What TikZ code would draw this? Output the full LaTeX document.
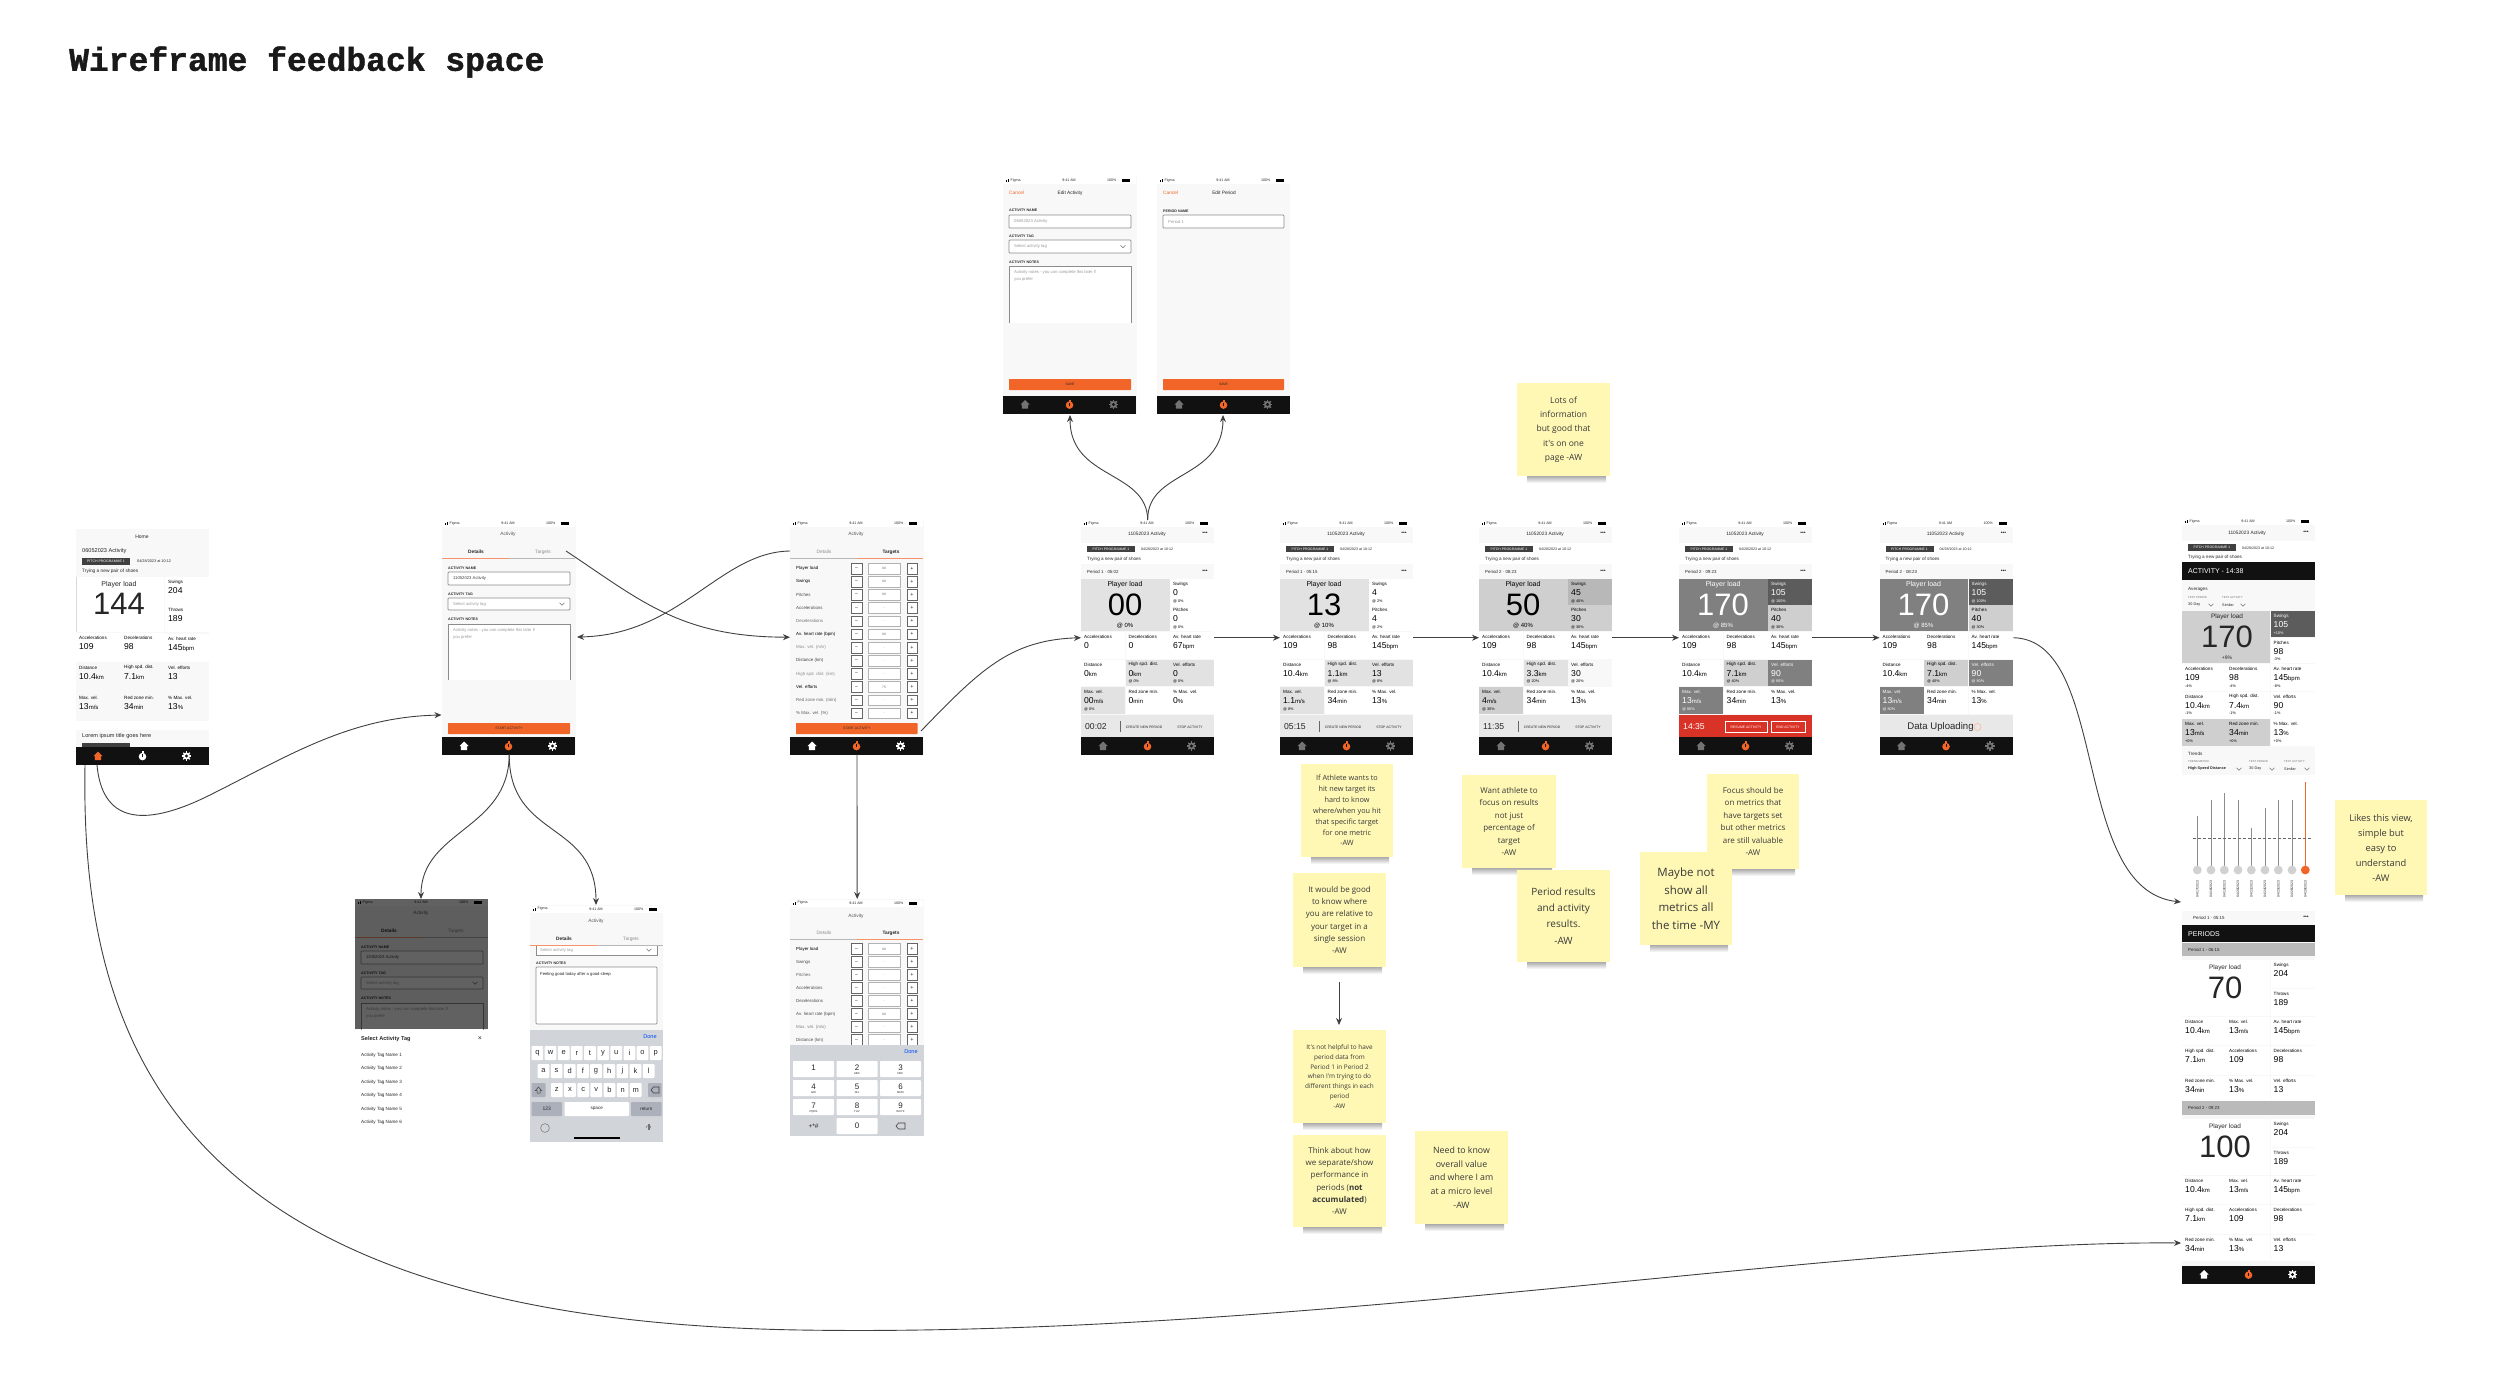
\documentclass[tikz,border=0pt]{standalone}
\usepackage{fontspec}
\usetikzlibrary{arrows.meta}
\setmainfont{Liberation Sans}
\newfontfamily\notefont{Open Sans}
\newfontfamily\titlefont[BoldFeatures={FakeBold=1.2}]{Liberation Mono}

\definecolor{orangeui}{HTML}{F26528}
\definecolor{tabblack}{HTML}{111111}
\definecolor{screenbg}{HTML}{F8F8F8}
\definecolor{g1}{HTML}{E2E2E2}
\definecolor{g2}{HTML}{CFCFCF}
\definecolor{g3}{HTML}{808080}
\definecolor{g4}{HTML}{5C5C5C}
\definecolor{redbar}{HTML}{D93226}
\definecolor{stickyyellow}{HTML}{FFF8B5}
\definecolor{keygrey}{HTML}{D1D4D9}
\definecolor{keydark}{HTML}{ABB0BA}

\tikzset{
  txt/.style={inner sep=0pt, anchor=west, text=black!85},
  screen/.style={anchor=north west, inner sep=0pt, fill=screenbg},
  link/.style={->, draw=black!75, line width=0.9pt},
  fieldbox/.style={draw=black!45, line width=0.7pt, fill=white, rounded corners=0.8pt},
  note/.style={fill=stickyyellow, inner sep=0pt, align=center, text=black!78}
}

\newcounter{lblno}
\newcommand{\fsz}[1]{\fontsize{#1}{#1}\selectfont}
\newcommand{\unt}[1]{{\fsz{6}#1}}
\newcommand{\lbl}[5][]{\stepcounter{lblno}\node[txt,font=\fsz{#4},#1] (lbl\arabic{lblno}) at ({#2},{#3}) {#5};}

% icons of the tab bar
\newcommand{\homeicon}[3]{\fill[#3] (#1-4.5,#2) -- (#1,#2-4.5) -- (#1+4.5,#2) -- (#1+3.2,#2) -- (#1+3.2,#2+4) -- (#1-3.2,#2+4) -- (#1-3.2,#2) -- cycle;}
\newcommand{\timericon}[3]{\fill[#3] (#1,#2+0.6) circle (3.8); \fill[#3] (#1-1,#2-4.6) rectangle (#1+1,#2-2.6); \fill[tabblack] (#1-0.4,#2-1.6) rectangle (#1+0.4,#2+1);}
\newcommand{\gearicon}[3]{\fill[#3] (#1,#2) circle (3.5);
  \foreach \a in {0,45,90,135} {\draw[#3, line width=1.4pt] ({#1+4.6*cos(\a)},{#2+4.6*sin(\a)}) -- ({#1-4.6*cos(\a)},{#2-4.6*sin(\a)});}
  \fill[tabblack] (#1,#2) circle (1.7);}
\newcommand{\tabbar}[5]{\fill[tabblack] (#1,#2) rectangle (#1+133,#2+18);
  \homeicon{#1+22}{#2+9}{#3} \timericon{#1+66.5}{#2+9}{#4} \gearicon{#1+110.5}{#2+9}{#5}}

% status bar, y is its middle
\newcommand{\statusbar}[2]{\fill[white] (#1,#2-3.5) rectangle (#1+133,#2+3.5);
  \fill[black] (#1+3,#2-0.5) rectangle (#1+4,#2+1.5); \fill[black] (#1+5,#2-1.5) rectangle (#1+6,#2+1.5);
  \lbl{#1+7.5}{#2}{3.6}{Figma}
  \lbl[anchor=center]{#1+66}{#2}{3.6}{9:41 AM}
  \lbl{#1+104}{#2}{3.6}{100\%}
  \fill[black] (#1+119,#2-1.5) rectangle (#1+127,#2+1.5);}

\newcommand{\chip}[4]{\fill[black!75] (#1,#2) rectangle (#3,#4);}

% one metric cell
\newcommand{\mcell}[9]{\fill[#5] (#1,#2) rectangle (#1+#3,#2+#4);
  \lbl[#6]{#1+3}{#2+5}{4.6}{#7}
  \lbl[#6]{#1+3}{#2+14}{8.6}{#8}
  \lbl[#6]{#1+3}{#2+22}{3.8}{#9}}
\newcommand{\rcell}[7]{\mcell{#1*44.5}{632+#2*27.5}{44}{26.5}{#3}{#4}{#5}{#6}{#7}}
\newcommand{\bigcell}[4]{\fill[#1] (0,579) rectangle (88.5,631);
  \lbl[anchor=center,#2]{44}{585}{7}{Player load}
  \lbl[anchor=center,#2]{44}{605}{31}{#3}
  \lbl[anchor=center,#2]{44}{626}{6}{#4}}

% top part of a running activity
\newcommand{\livehead}[1]{\statusbar{0}{523.5}
  \fill[white] (0,543) rectangle (133,564);
  \lbl[anchor=center]{66}{534}{4.8}{11052023 Activity}
  \lbl[anchor=center]{124}{533.5}{5}{\textbf{•••}}
  \chip{6}{546}{54}{552}
  \lbl[anchor=center,white]{30}{549}{3.4}{PITCH PROGRAMME 1}
  \lbl{60}{549}{3.6}{04/28/2023 at 10:12}
  \lbl{6}{559}{4.6}{Trying a new pair of shoes}
  \lbl{6}{572}{4.4}{#1}
  \lbl[anchor=center]{124}{571.5}{5}{\textbf{•••}}}
\newcommand{\livebar}[1]{\fill[g1!80] (0,715) rectangle (133,737);
  \lbl{4}{727}{8.6}{#1}
  \draw[black!60, line width=0.6pt] (39,721) -- (39,732);
  \lbl[anchor=center]{63}{727}{3.4}{CREATE NEW PERIOD}
  \lbl[anchor=center]{109}{727}{3.4}{STOP ACTIVITY}
  \tabbar{0}{737}{black!55}{orangeui}{black!55}}

% form with activity fields
\newcommand{\detailstabs}[2]{%
  \ifnum#2=1
    \lbl[anchor=center]{34}{#1-7}{4.8}{\textbf{Details}}
    \lbl[anchor=center,black!45]{101}{#1-7}{4.8}{Targets}
    \fill[black!28] (67,#1-1) rectangle (133,#1);
    \fill[orangeui!70] (0,#1-1) rectangle (67,#1);
  \else
    \lbl[anchor=center,black!45]{34}{#1-7}{4.8}{Details}
    \lbl[anchor=center]{101}{#1-7}{4.8}{\textbf{Targets}}
    \fill[black!28] (0,#1-1) rectangle (67,#1);
    \fill[orangeui!70] (67,#1-1) rectangle (133,#1);
  \fi}
\newcommand{\chevron}[2]{\draw[black!55, line width=0.5pt] (#1-2.5,#2-1.2) -- (#1,#2+1.2) -- (#1+2.5,#2-1.2);}
\newcommand{\activityform}[2]{\lbl{6}{568}{3.6}{\textbf{ACTIVITY NAME}}
  \draw[fieldbox] (6,572) rectangle (128,585);
  \lbl[#1]{11}{578.5}{4.2}{#2}
  \lbl{6}{594}{3.6}{\textbf{ACTIVITY TAG}}
  \draw[fieldbox] (6,598) rectangle (128,610);
  \lbl[black!40]{11}{604}{4.2}{Select activity tag}
  \chevron{120}{604}
  \lbl{6}{619}{3.6}{\textbf{ACTIVITY NOTES}}
  \fill[white] (6,624) rectangle (128,680);
  \draw[black!45, line width=0.7pt] (6,680) -- (6,624) -- (128,624) -- (128,680);
  \lbl[black!40]{11}{630}{4.2}{Activity notes - you can complete this later if}
  \lbl[black!40]{11}{637}{4.2}{you prefer}}
\newcommand{\orangebtn}[5]{\fill[orangeui, rounded corners=0.6pt] (#1,#2) rectangle (#3,#4);
  \lbl[anchor=center]{(#1+#3)/2}{(#2+#4)/2}{3.4}{#5}}

% one row of the targets form
\newcommand{\targetrow}[4]{\lbl[#4]{6}{#1}{4.4}{#2}
  \draw[black!60, line width=0.5pt, fill=white] (61,#1-5.3) rectangle (72,#1+5.3);
  \lbl[anchor=center]{66.5}{#1}{5.5}{−}
  \draw[black!30, line width=0.5pt, fill=white] (78,#1-5.3) rectangle (110.5,#1+5.3);
  \lbl[anchor=center,black!60]{94}{#1}{3.2}{#3}
  \draw[black!60, line width=0.5pt, fill=white] (117,#1-5.3) rectangle (127.5,#1+5.3);
  \lbl[anchor=center]{122}{#1}{5.5}{+}}

\newcommand{\keycap}[7][white]{\fill[#1, rounded corners=0.9pt] (#2,#3) rectangle (#4,#5);
  \lbl[anchor=center]{(#2+#4)/2}{(#3+#5)/2}{#6}{#7}}
\newcommand{\padkey}[4]{\fill[white, rounded corners=0.9pt] (#1,#2) rectangle (#1+41,#2+16);
  \lbl[anchor=center]{#1+20.5}{#2+6.5}{8}{#3}
  \lbl[anchor=center]{#1+20.5}{#2+13}{2.8}{#4}}

% a block of the periods list
\newcommand{\periodblock}[2]{\fill[white] (0,#1) rectangle (87.5,#1+56);
  \lbl[anchor=center]{43}{#1+8}{6.4}{Player load}
  \lbl[anchor=center]{43}{#1+28}{31}{#2}
  \mcell{88.5}{#1}{44.5}{27.5}{white}{black}{Swings}{204}{}
  \mcell{88.5}{#1+28.5}{44.5}{27.5}{white}{black}{Throws}{189}{}
  \mcell{0}{#1+57}{43.5}{28}{white}{black}{Distance}{10.4\unt{km}}{}
  \mcell{44}{#1+57}{44}{28}{white}{black}{Max. vel.}{13\unt{m/s}}{}
  \mcell{88.5}{#1+57}{44.5}{28}{white}{black}{Av. heart rate}{145\unt{bpm}}{}
  \mcell{0}{#1+86}{43.5}{29}{white}{black}{High spd. dist.}{7.1\unt{km}}{}
  \mcell{44}{#1+86}{44}{29}{white}{black}{Accelerations}{109}{}
  \mcell{88.5}{#1+86}{44.5}{29}{white}{black}{Decelerations}{98}{}
  \mcell{0}{#1+116}{43.5}{26}{white}{black}{Red zone min.}{34\unt{min}}{}
  \mcell{44}{#1+116}{44}{26}{white}{black}{\% Max. vel.}{13\unt{\%}}{}
  \mcell{88.5}{#1+116}{44.5}{26}{white}{black}{Vel. efforts}{13}{}}

% yellow note with its shadow
\newcommand{\sticky}[8]{\shade[top color=black!55, bottom color=white, opacity=0.6] (#2+10,#5) rectangle (#4-4,#5+7);
  \node[note, font=\notefont\fontsize{#6}{#7}\selectfont, minimum width={(#4-#2)*1pt}, minimum height={(#5-#3)*1pt}] (#1) at ({(#2+#4)/2},{(#3+#5)/2}) {#8};}

\begin{document}
\begin{tikzpicture}[>={Stealth[length=7pt,width=6pt]}, x=1pt, y=-1pt]
    \useasboundingbox (0,0) rectangle (2500,1380);
    \fill[white] (0,0) rectangle (2500,1380);

    % 1. Title
    \node[txt, font=\titlefont\bfseries\fontsize{33}{33}\selectfont, text=black!90] (title) at (69,62) {Wireframe feedback space};

    % 2. Home screen
    \node[screen, minimum width=133pt, minimum height=235pt] (home) at (76,529) {};
    \begin{scope}[shift={(76,0)}]
        \lbl[anchor=center]{66}{537}{5}{Home}
        \lbl{6}{551}{5.6}{06052023 Activity}
        \chip{6}{558}{54}{565}
        \lbl[anchor=center,white]{30}{561.5}{3.5}{PITCH PROGRAMME 1}
        \lbl{61}{561}{3.8}{04/28/2023 at 10:12}
        \lbl{6}{571}{4.8}{Trying a new pair of shoes}
        \fill[white] (0,577) rectangle (88,632);
        \draw[black!15, line width=0.5pt] (0,577) -- (0,632);
        \lbl[anchor=center]{43}{584.5}{7}{Player load}
        \lbl[anchor=center]{43}{604}{31}{144}
        \mcell{89}{577}{44}{28}{white}{black}{Swings}{204}{}
        \mcell{89}{605}{44}{27}{white}{black}{Throws}{189}{}
        \mcell{0}{633}{44.5}{29}{white}{black}{Accelerations}{109}{}
        \mcell{45}{633}{43.5}{29}{white}{black}{Decelerations}{98}{}
        \mcell{89}{634}{44}{28}{white}{black}{Av. heart rate}{145\unt{bpm}}{}
        \mcell{0}{662.5}{44.5}{29}{screenbg}{black}{Distance}{10.4\unt{km}}{}
        \mcell{45}{662.5}{43.5}{29}{screenbg}{black}{High spd. dist.}{7.1\unt{km}}{}
        \mcell{89}{662.5}{44}{29}{screenbg}{black}{Vel. efforts}{13}{}
        \mcell{0}{692.5}{44.5}{28.5}{screenbg}{black}{Max. vel.}{13\unt{m/s}}{}
        \mcell{45}{692.5}{43.5}{28.5}{screenbg}{black}{Red zone min.}{34\unt{min}}{}
        \mcell{89}{692.5}{44}{28.5}{screenbg}{black}{\% Max. vel.}{13\unt{\%}}{}
        \fill[white] (0,721) rectangle (133,730);
        \lbl{6}{736}{5.6}{Lorem ipsum title goes here}
        \chip{6}{743}{54}{747}
        \tabbar{0}{747}{orangeui}{white}{white}
    \end{scope}

    % 3. Activity form, Details tab
    \node[screen, minimum width=134pt, minimum height=234pt] (details) at (442,520) {};
    \begin{scope}[shift={(442,0)}]
        \statusbar{0}{523.5}
        \lbl[anchor=center,black!65]{66}{534}{4.8}{Activity}
        \detailstabs{559}{1}
        \activityform{black!75}{11052023 Activity}
        \orangebtn{6}{723}{128}{734}{START ACTIVITY}
        \tabbar{0}{737}{white}{orangeui}{white}
    \end{scope}

    % 4. Activity form, Targets tab
    \node[screen, minimum width=133.5pt, minimum height=234pt] (targets) at (790,520) {};
    \begin{scope}[shift={(790,0)}]
        \statusbar{0}{523.5}
        \lbl[anchor=center,black!65]{66}{534}{4.8}{Activity}
        \detailstabs{559}{2}
        \foreach \lab/\val/\col [count=\i from 0] in {Player load/90/black, Swings/90/black, Pitches/90/black!70, Accelerations/-/black!70, Decelerations/-/black!55, Av. heart rate (bpm)/90/black, Max. vel. (m\slash s)/-/black!45, Distance (km)/-/black!75, High spd. dist. (km)/-/black!45, Vel. efforts/75/black, Red zone min. (min)/-/black!60, \% Max. vel. (\%)/-/black!65} {
            \pgfmathsetmacro\rowy{568.5+13.17*\i}
            \targetrow{\rowy}{\lab}{\val}{\col}
        }
        \orangebtn{6}{723}{127.5}{734}{START ACTIVITY}
        \tabbar{0}{737}{white}{orangeui}{white}
    \end{scope}

    % 5. Edit activity and edit period
    \node[screen, minimum width=134pt, minimum height=237pt] (editact) at (1003,177) {};
    \begin{scope}[shift={(1003,0)}]
        \statusbar{0}{180.5}
        \lbl[orangeui]{6}{193}{4.8}{Cancel}
        \lbl[anchor=center]{67}{193}{4.8}{Edit Activity}
        \lbl{6}{210}{3.6}{\textbf{ACTIVITY NAME}}
        \draw[fieldbox] (6,215) rectangle (128,228);
        \lbl[black!40]{11}{221.5}{4.2}{06052023 Activity}
        \lbl{6}{236}{3.6}{\textbf{ACTIVITY TAG}}
        \draw[fieldbox] (6,240) rectangle (128,253);
        \lbl[black!40]{11}{246.5}{4.2}{Select activity tag}
        \chevron{120}{246.5}
        \lbl{6}{262}{3.6}{\textbf{ACTIVITY NOTES}}
        \fill[white] (6,266) rectangle (128,323);
        \draw[black!45, line width=0.7pt] (6,323) -- (6,266) -- (128,266) -- (128,323);
        \lbl[black!40]{11}{272}{4.2}{Activity notes - you can complete this later if}
        \lbl[black!40]{11}{279}{4.2}{you prefer}
        \orangebtn{6}{379}{128}{390}{SAVE}
        \tabbar{0}{395.5}{black!55}{orangeui}{black!55}
    \end{scope}
    \node[screen, minimum width=133pt, minimum height=237pt] (editper) at (1157,177) {};
    \begin{scope}[shift={(1157,0)}]
        \statusbar{0}{180.5}
        \lbl[orangeui]{6}{193}{4.8}{Cancel}
        \lbl[anchor=center]{67}{193}{4.8}{Edit Period}
        \lbl{6}{211}{3.6}{\textbf{PERIOD NAME}}
        \draw[fieldbox] (6,215) rectangle (127,228);
        \lbl[black!40]{11}{221.5}{4.2}{Period 1}
        \orangebtn{6}{379}{127}{390}{SAVE}
        \tabbar{0}{395.5}{black!55}{orangeui}{black!55}
    \end{scope}

    % 6. Running activity, one screen after the other
    \node[screen, minimum width=133pt, minimum height=235pt] (live00) at (1081,520) {};
    \begin{scope}[shift={(1081,0)}]
        \livehead{Period 1 · 05:02}
        \bigcell{g1}{black}{00}{@ 0\%}
        \mcell{89}{579}{44}{25.5}{white}{black}{Swings}{0}{@ 0\%}
        \mcell{89}{605}{44}{26}{white}{black}{Pitches}{0}{@ 0\%}
        \rcell{0}{0}{white}{black}{Accelerations}{0}{}
        \rcell{1}{0}{white}{black}{Decelerations}{0}{}
        \rcell{2}{0}{white}{black}{Av. heart rate}{67\unt{bpm}}{}
        \rcell{0}{1}{white}{black}{Distance}{0\unt{km}}{}
        \rcell{1}{1}{g1}{black}{High spd. dist.}{0\unt{km}}{@ 0\%}
        \rcell{2}{1}{g1}{black}{Vel. efforts}{0}{@ 0\%}
        \rcell{0}{2}{g1}{black}{Max. vel.}{00\unt{m/s}}{@ 0\%}
        \rcell{1}{2}{white}{black}{Red zone min.}{0\unt{min}}{}
        \rcell{2}{2}{white}{black}{\% Max. vel.}{0\unt{\%}}{}
        \livebar{00:02}
    \end{scope}

    \node[screen, minimum width=133pt, minimum height=235pt] (live13) at (1280,520) {};
    \begin{scope}[shift={(1280,0)}]
        \livehead{Period 1 · 05:15}
        \bigcell{g1}{black}{13}{@ 10\%}
        \mcell{89}{579}{44}{25.5}{white}{black}{Swings}{4}{@ 2\%}
        \mcell{89}{605}{44}{26}{white}{black}{Pitches}{4}{@ 2\%}
        \rcell{0}{0}{white}{black}{Accelerations}{109}{}
        \rcell{1}{0}{white}{black}{Decelerations}{98}{}
        \rcell{2}{0}{white}{black}{Av. heart rate}{145\unt{bpm}}{}
        \rcell{0}{1}{white}{black}{Distance}{10.4\unt{km}}{}
        \rcell{1}{1}{g1}{black}{High spd. dist.}{1.1\unt{km}}{@ 8\%}
        \rcell{2}{1}{g1}{black}{Vel. efforts}{13}{@ 8\%}
        \rcell{0}{2}{g1}{black}{Max. vel.}{1.1\unt{m/s}}{@ 8\%}
        \rcell{1}{2}{white}{black}{Red zone min.}{34\unt{min}}{}
        \rcell{2}{2}{white}{black}{\% Max. vel.}{13\unt{\%}}{}
        \livebar{05:15}
    \end{scope}

    \node[screen, minimum width=133pt, minimum height=235pt] (live50) at (1479,520) {};
    \begin{scope}[shift={(1479,0)}]
        \livehead{Period 2 · 08:23}
        \bigcell{g2}{black}{50}{@ 40\%}
        \mcell{89}{579}{44}{25.5}{black!28}{black}{Swings}{45}{@ 40\%}
        \mcell{89}{605}{44}{26}{g2}{black}{Pitches}{30}{@ 30\%}
        \rcell{0}{0}{white}{black}{Accelerations}{109}{}
        \rcell{1}{0}{white}{black}{Decelerations}{98}{}
        \rcell{2}{0}{white}{black}{Av. heart rate}{145\unt{bpm}}{}
        \rcell{0}{1}{white}{black}{Distance}{10.4\unt{km}}{}
        \rcell{1}{1}{g1}{black}{High spd. dist.}{3.3\unt{km}}{@ 20\%}
        \rcell{2}{1}{screenbg}{black}{Vel. efforts}{30}{@ 20\%}
        \rcell{0}{2}{g2}{black}{Max. vel.}{4\unt{m/s}}{@ 30\%}
        \rcell{1}{2}{white}{black}{Red zone min.}{34\unt{min}}{}
        \rcell{2}{2}{white}{black}{\% Max. vel.}{13\unt{\%}}{}
        \livebar{11:35}
    \end{scope}

    \node[screen, minimum width=133pt, minimum height=235pt] (live170) at (1679,520) {};
    \begin{scope}[shift={(1679,0)}]
        \livehead{Period 2 · 09:23}
        \bigcell{g3}{white}{170}{@ 85\%}
        \mcell{89}{579}{44}{25.5}{g4}{white}{Swings}{105}{@ 100\%}
        \mcell{89}{605}{44}{26}{g2}{black}{Pitches}{40}{@ 30\%}
        \rcell{0}{0}{white}{black}{Accelerations}{109}{}
        \rcell{1}{0}{white}{black}{Decelerations}{98}{}
        \rcell{2}{0}{white}{black}{Av. heart rate}{145\unt{bpm}}{}
        \rcell{0}{1}{white}{black}{Distance}{10.4\unt{km}}{}
        \rcell{1}{1}{g2}{black}{High spd. dist.}{7.1\unt{km}}{@ 40\%}
        \rcell{2}{1}{g3}{white}{Vel. efforts}{90}{@ 80\%}
        \rcell{0}{2}{g3}{white}{Max. vel.}{13\unt{m/s}}{@ 80\%}
        \rcell{1}{2}{white}{black}{Red zone min.}{34\unt{min}}{}
        \rcell{2}{2}{white}{black}{\% Max. vel.}{13\unt{\%}}{}
        \fill[redbar] (0,715) rectangle (133,737);
        \lbl[white]{4}{727}{8.6}{14:35}
        \draw[white, line width=0.5pt] (46,721) rectangle (88,732);
        \draw[white, line width=0.5pt] (92,721) rectangle (126,732);
        \lbl[anchor=center,white]{67}{727}{3.4}{RESUME ACTIVITY}
        \lbl[anchor=center,white]{109}{727}{3.4}{END ACTIVITY}
        \tabbar{0}{737}{black!55}{orangeui}{black!55}
    \end{scope}

    \node[screen, minimum width=133.5pt, minimum height=235pt] (upload) at (1879.5,520) {};
    \begin{scope}[shift={(1879.5,0)}]
        \livehead{Period 2 · 08:23}
        \bigcell{g3}{white}{170}{@ 85\%}
        \mcell{89}{579}{44}{25.5}{g4}{white}{Swings}{105}{@ 100\%}
        \mcell{89}{605}{44}{26}{g2}{black}{Pitches}{40}{@ 30\%}
        \rcell{0}{0}{white}{black}{Accelerations}{109}{}
        \rcell{1}{0}{white}{black}{Decelerations}{98}{}
        \rcell{2}{0}{white}{black}{Av. heart rate}{145\unt{bpm}}{}
        \rcell{0}{1}{white}{black}{Distance}{10.4\unt{km}}{}
        \rcell{1}{1}{g2}{black}{High spd. dist.}{7.1\unt{km}}{@ 40\%}
        \rcell{2}{1}{g3}{white}{Vel. efforts}{90}{@ 80\%}
        \rcell{0}{2}{g3}{white}{Max. vel.}{13\unt{m/s}}{@ 80\%}
        \rcell{1}{2}{white}{black}{Red zone min.}{34\unt{min}}{}
        \rcell{2}{2}{white}{black}{\% Max. vel.}{13\unt{\%}}{}
        \fill[g1!80] (0,715) rectangle (133,737);
        \lbl[anchor=center]{61}{727}{9.6}{Data Uploading}
        \draw[orangeui!40, line width=0.8pt] (98,727) circle (3.6);
        \tabbar{0}{737}{black!55}{orangeui}{black!55}
    \end{scope}

    % 7. Activity tag picker, details screen darkened behind it
    \node[screen, fill=white, minimum width=133pt, minimum height=235pt] (tagpick) at (355,899) {};
    \begin{scope}
        \clip (355,899) rectangle (488,1029);
        \begin{scope}[shift={(355,379)}]
            \fill[screenbg] (0,520) rectangle (133,680);
            \statusbar{0}{523.5}
            \lbl[anchor=center,black!65]{66}{534}{4.8}{Activity}
            \detailstabs{559}{1}
            \activityform{black!75}{11052023 Activity}
        \end{scope}
        \fill[black, opacity=0.62] (355,899) rectangle (488,1029);
    \end{scope}
    \begin{scope}[shift={(355,0)}]
        \lbl{6}{1039}{5.6}{\textbf{Select Activity Tag}}
        \lbl[anchor=center]{125}{1039}{7}{×}
        \foreach \tagno/\rowy in {1/1055, 2/1068, 3/1082, 4/1095, 5/1109, 6/1122} {
            \lbl{6}{\rowy}{4.6}{Activity Tag Name \tagno}
        }
    \end{scope}

    % 8. Notes with the keyboard open
    \node[screen, minimum width=133pt, minimum height=237pt] (keyb) at (530,905) {};
    \begin{scope}[shift={(530,0)}]
        \statusbar{0}{909}
        \lbl[anchor=center,black!65]{66}{921}{4.8}{Activity}
        \detailstabs{946}{1}
        \fill[white] (6,946) rectangle (127,955);
        \draw[black!45, line width=0.7pt] (6,946) -- (6,955) -- (127,955) -- (127,946);
        \lbl[black!40]{10}{950}{4.2}{Select activity tag}
        \chevron{119}{950}
        \lbl{6}{963}{3.6}{\textbf{ACTIVITY NOTES}}
        \draw[fieldbox] (6,967) rectangle (127,1024);
        \lbl{10}{974}{4.2}{Feeling good today after a good sleep}
    \end{scope}
    \fill[keygrey] (530,1030) rectangle (663,1142);
    \lbl[anchor=center,blue!70!cyan]{650}{1037}{5.6}{Done}
    \foreach \k [count=\i from 0] in {q,w,e,r,t,y,u,i,o,p} {
        \pgfmathsetmacro\keyx{531.5+13.15*\i}
        \keycap{\keyx}{1046}{\keyx+11.7}{1060}{7.5}{\k}
    }
    \foreach \k [count=\i from 0] in {a,s,d,f,g,h,j,k,l} {
        \pgfmathsetmacro\keyx{537.6+13.15*\i}
        \keycap{\keyx}{1064}{\keyx+11.7}{1078}{7.5}{\k}
    }
    \fill[keydark, rounded corners=0.9pt] (531.5,1083) rectangle (545.5,1097);
    \draw[black!75, line width=0.5pt] (535.5,1090.5) -- (538.5,1087) -- (541.5,1090.5) -- (540,1090.5) -- (540,1093) -- (537,1093) -- (537,1090.5) -- cycle;
    \foreach \k [count=\i from 0] in {z,x,c,v,b,n,m} {
        \pgfmathsetmacro\keyx{551+13.15*\i}
        \keycap{\keyx}{1083}{\keyx+11.7}{1097}{7.5}{\k}
    }
    \fill[keydark, rounded corners=0.9pt] (648,1083) rectangle (661.7,1097);
    \draw[black!75, line width=0.6pt] (651,1090) -- (653.5,1087) -- (659,1087) -- (659,1093) -- (653.5,1093) -- cycle;
    \keycap[keydark]{531.5}{1102}{562}{1116}{5}{123}
    \keycap{564.5}{1102}{629}{1116}{4.6}{space}
    \keycap[keydark]{631}{1102}{661.7}{1116}{4.6}{return}
    \draw[black!50, line width=0.6pt, fill=keygrey] (545,1128) circle (4.4);
    \fill[black!55] (647.5,1124) rectangle (649.5,1130);
    \draw[black!55, line width=0.5pt] (646,1128) arc (180:360:2.5);
    \fill[black] (574,1137) rectangle (620,1139);

    % 9. Targets with the number pad open
    \node[screen, minimum width=134pt, minimum height=233pt] (numpad) at (790,899) {};
    \begin{scope}[shift={(790,0)}]
        \statusbar{0}{903}
        \lbl[anchor=center,black!65]{66}{916}{4.8}{Activity}
        \detailstabs{940}{2}
        \foreach \lab/\val/\col [count=\i from 0] in {Player load/90/black, Swings/-/black!70, Pitches/-/black!60, Accelerations/-/black!70, Decelerations/-/black!70, Av. heart rate (bpm)/90/black!70, Max. vel. (m\slash s)/-/black!50, Distance (km)/-/black!70} {
            \pgfmathsetmacro\rowy{949+13*\i}
            \targetrow{\rowy}{\lab}{\val}{\col}
        }
    \end{scope}
    \fill[keygrey] (790,1045) rectangle (924,1136);
    \lbl[anchor=center,blue!70!cyan]{911}{1052}{5.6}{Done}
    \padkey{793}{1061}{1}{}
    \padkey{836.5}{1061}{2}{ABC}
    \padkey{880}{1061}{3}{DEF}
    \padkey{793}{1080}{4}{GHI}
    \padkey{836.5}{1080}{5}{JKL}
    \padkey{880}{1080}{6}{MNO}
    \padkey{793}{1099}{7}{PQRS}
    \padkey{836.5}{1099}{8}{TUV}
    \padkey{880}{1099}{9}{WXYZ}
    \fill[white, rounded corners=0.9pt] (836.5,1118) rectangle (877.5,1134);
    \lbl[anchor=center]{857}{1126}{8}{0}
    \lbl[anchor=center]{813.5}{1126}{6.5}{+*\#}
    \draw[black!75, line width=0.6pt] (896,1126) -- (898.5,1123) -- (905,1123) -- (905,1129) -- (898.5,1129) -- cycle;

    % 10. Summary, activity on top and periods below
    \node[screen, minimum width=133pt, minimum height=763pt] (summary) at (2182,520) {};
    \begin{scope}[shift={(2182,0)}]
        \statusbar{0}{521.5}
        \lbl[anchor=center]{65}{533}{4.8}{11052023 Activity}
        \lbl[anchor=center]{124}{532.5}{5}{\textbf{•••}}
        \fill[white] (0,541) rectangle (133,562);
        \chip{6}{544}{54}{551}
        \lbl[anchor=center,white]{30}{547.5}{3.4}{PITCH PROGRAMME 1}
        \lbl{60}{548}{3.6}{04/28/2023 at 10:12}
        \lbl{6}{557}{4.6}{Trying a new pair of shoes}
        \fill[tabblack] (0,562) rectangle (133,580);
        \lbl[white]{6}{571}{7}{ACTIVITY - 14:38}
        \lbl{6}{589}{4.6}{Averages}
        \lbl[black!55]{6}{598}{2.8}{TEST PERIOD}
        \lbl[black!55]{40}{598}{2.8}{TEST ACTIVITY}
        \lbl{6}{605}{3.8}{30 Day}
        \chevron{29}{605}
        \lbl{40}{605}{3.8}{Similar}
        \chevron{61}{605}
        \fill[g2] (0,611) rectangle (88,663);
        \lbl[anchor=center]{45}{617}{6.4}{Player load}
        \lbl[anchor=center]{45}{637}{31}{170}
        \lbl[anchor=center]{45}{658}{5}{+9\%}
        \mcell{88.5}{611}{44.5}{26}{g4}{white}{Swings}{105}{+10\%}
        \mcell{88.5}{637.5}{44.5}{25.5}{white}{black}{Pitches}{98}{-3\%}
        \mcell{0}{664}{43.5}{26.5}{white}{black}{Accelerations}{109}{-4\%}
        \mcell{44}{664}{44}{26.5}{white}{black}{Decelerations}{98}{-4\%}
        \mcell{88.5}{664}{44.5}{26.5}{white}{black}{Av. heart rate}{145\unt{bpm}}{-8\%}
        \mcell{0}{691.5}{43.5}{27}{white}{black}{Distance}{10.4\unt{km}}{-1\%}
        \mcell{44}{691.5}{44}{27}{white}{black}{High spd. dist.}{7.4\unt{km}}{-1\%}
        \mcell{88.5}{691.5}{44.5}{27}{white}{black}{Vel. efforts}{90}{-1\%}
        \mcell{0}{719}{44}{27}{g2}{black}{Max. vel.}{13\unt{m/s}}{+0\%}
        \mcell{44}{719}{44}{27}{g2}{black}{Red zone min.}{34\unt{min}}{+0\%}
        \mcell{88.5}{719}{44.5}{27}{white}{black}{\% Max. vel.}{13\unt{\%}}{+0\%}
        \lbl{6}{753.5}{4.6}{Trends}
        \lbl[black!55]{6}{762}{2.8}{TREND METRIC}
        \lbl[black!55]{67}{762}{2.8}{TEST PERIOD}
        \lbl[black!55]{102}{762}{2.8}{TEST ACTIVITY}
        \lbl{6}{769}{3.8}{\textbf{High Speed Distance}}
        \chevron{57}{769}
        \lbl{67}{769}{3.8}{30 Day}
        \chevron{90}{769}
        \lbl{102}{769}{3.8}{Similar}
        \chevron{125}{769}
        % trend chart
        \fill[white] (0,775) rectangle (133,911);
        \foreach \stemx/\stemy/\stemdate in {15.3/816/04\slash 17\slash 2023, 29/800/04\slash 18\slash 2023, 42.3/793/04\slash 19\slash 2023, 56/800/04\slash 20\slash 2023, 69.3/828/04\slash 21\slash 2023, 83/808/04\slash 24\slash 2023, 96.3/800/04\slash 25\slash 2023, 110/800/04\slash 26\slash 2023} {
            \draw[black!45, line width=0.9pt] (\stemx,\stemy) -- (\stemx,870);
            \fill[black!18] (\stemx,870) circle (4.4);
            \lbl[anchor=center,rotate=90]{\stemx}{889}{3.4}{\stemdate}
        }
        \draw[orangeui, line width=1pt] (123.3,782) -- (123.3,870);
        \fill[orangeui] (123.3,870) circle (4.4);
        \lbl[anchor=center,rotate=90]{123.3}{889}{3.4}{04\slash 28\slash 2023}
        \draw[black!60, line width=0.5pt, densely dashed] (11,838) -- (129,838);
        % periods
        \lbl{11}{918}{4.4}{Period 1 · 05:15}
        \lbl[anchor=center]{124}{917.5}{5}{\textbf{•••}}
        \fill[tabblack] (0,925) rectangle (133,942);
        \lbl[white]{6}{934}{7}{PERIODS}
        \fill[black!27] (0,943) rectangle (133,956);
        \lbl{6}{950}{4.4}{Period 1 - 06:15}
        \periodblock{960}{70}
        \fill[black!27] (0,1101) rectangle (133,1115);
        \lbl{6}{1108}{4.4}{Period 2 - 09:23}
        \periodblock{1119}{100}
        \tabbar{0}{1265.5}{white}{orangeui}{white}
    \end{scope}

    % 11. Yellow notes
    \sticky{noteA}{1301}{764}{1393}{857}{7.3}{10.9}{If Athlete wants to\\hit new target its\\hard to know\\where/when you hit\\that specific target\\for one metric\\-AW}
    \sticky{noteB}{1293}{873}{1386}{967}{8}{12.3}{It would be good\\to know where\\you are relative to\\your target in a\\single session\\-AW}
    \sticky{noteC}{1293}{1030}{1386}{1123}{6.4}{9.8}{It's not helpful to have\\period data from\\Period 1 in Period 2\\when I'm trying to do\\different things in each\\period\\-AW}
    \sticky{noteD}{1293}{1135}{1386}{1227}{8}{12.3}{Think about how\\we separate/show\\performance in\\periods (\textbf{not}\\\textbf{accumulated})\\-AW}
    \sticky{noteE}{1415}{1131}{1508}{1224}{8.8}{13.8}{Need to know\\overall value\\and where I am\\at a micro level\\-AW}
    \sticky{noteF}{1462}{775}{1556}{868}{8}{12.4}{Want athlete to\\focus on results\\not just\\percentage of\\target\\-AW}
    \sticky{noteG}{1517}{870}{1610}{962}{10}{16.3}{Period results\\and activity\\results.\\-AW}
    \sticky{noteH}{1707}{774}{1799}{869}{8}{12.4}{Focus should be\\on metrics that\\have targets set\\but other metrics\\are still valuable\\-AW}
    \sticky{noteI}{1640}{852}{1732}{945}{11.5}{17.5}{Maybe not\\show all\\metrics all\\the time -MY}
    \sticky{noteJ}{1517}{383}{1610}{476}{8.5}{14.3}{Lots of\\information\\but good that\\it's on one\\page -AW}
    \sticky{noteK}{2335}{800}{2427}{895}{9.3}{15}{Likes this view,\\simple but\\easy to\\understand\\-AW}

    % 12. Free ends of the connectors
    \coordinate (homeTabA) at (97,765);
    \coordinate (homeTabB) at (85,765);
    \coordinate (detailsIn) at (441.5,715);
    \coordinate (detailsOut) at (566,551);
    \coordinate (detailsNotes) at (577,637);
    \coordinate (targetsTab) at (790,551);
    \coordinate (startBtn) at (921,731);
    \coordinate (summaryTop) at (2181,902);
    \coordinate (summaryLow) at (2181,1243);
    \coordinate (editactTab) at (1070,415);
    \coordinate (editperTab) at (1223,415);
    \coordinate (tagpickTop) at (421,899);
    \coordinate (keybTop) at (596,905);
    \coordinate (noteArrowA) at (1339,982);
    \coordinate (noteArrowB) at (1339,1025);

    % 13. Connectors
    \draw[link] (homeTabA) .. controls (102,820) and (140,830) .. (210,795) .. controls (290,755) and (350,717) .. (detailsIn);
    \draw[link] (homeTabB) .. controls (80,1050) and (180,1320) .. (800,1330) .. controls (1300,1338) and (1850,1240) .. (summaryLow);
    \draw[link] (detailsOut) .. controls (640,600) and (680,637) .. (targets.west);
    \draw[link] (targetsTab) .. controls (720,552) and (680,635) .. (detailsNotes);
    \draw[link] (startBtn) .. controls (980,670) and (1010,640) .. (live00.west);
    \draw[link] (live00.east) -- (live13.west);
    \draw[link] (live13.east) -- (live50.west);
    \draw[link] (live50.east) -- (live170.west);
    \draw[link] (live170.east) -- (upload.west);
    \draw[link] (upload.east) .. controls (2110,640) and (2070,890) .. (summaryTop);
    \draw[link] (live00.north) .. controls (1147,470) and (1070,480) .. (editactTab);
    \draw[link] (live00.north) .. controls (1147,470) and (1223,480) .. (editperTab);
    \draw[link] (details.south) .. controls (509,830) and (421,830) .. (tagpickTop);
    \draw[link] (details.south) .. controls (509,840) and (596,820) .. (keybTop);
    \draw[link] (targets.south) -- (numpad.north);
    \draw[link] (noteArrowA) -- (noteArrowB);
\end{tikzpicture}
\end{document}
